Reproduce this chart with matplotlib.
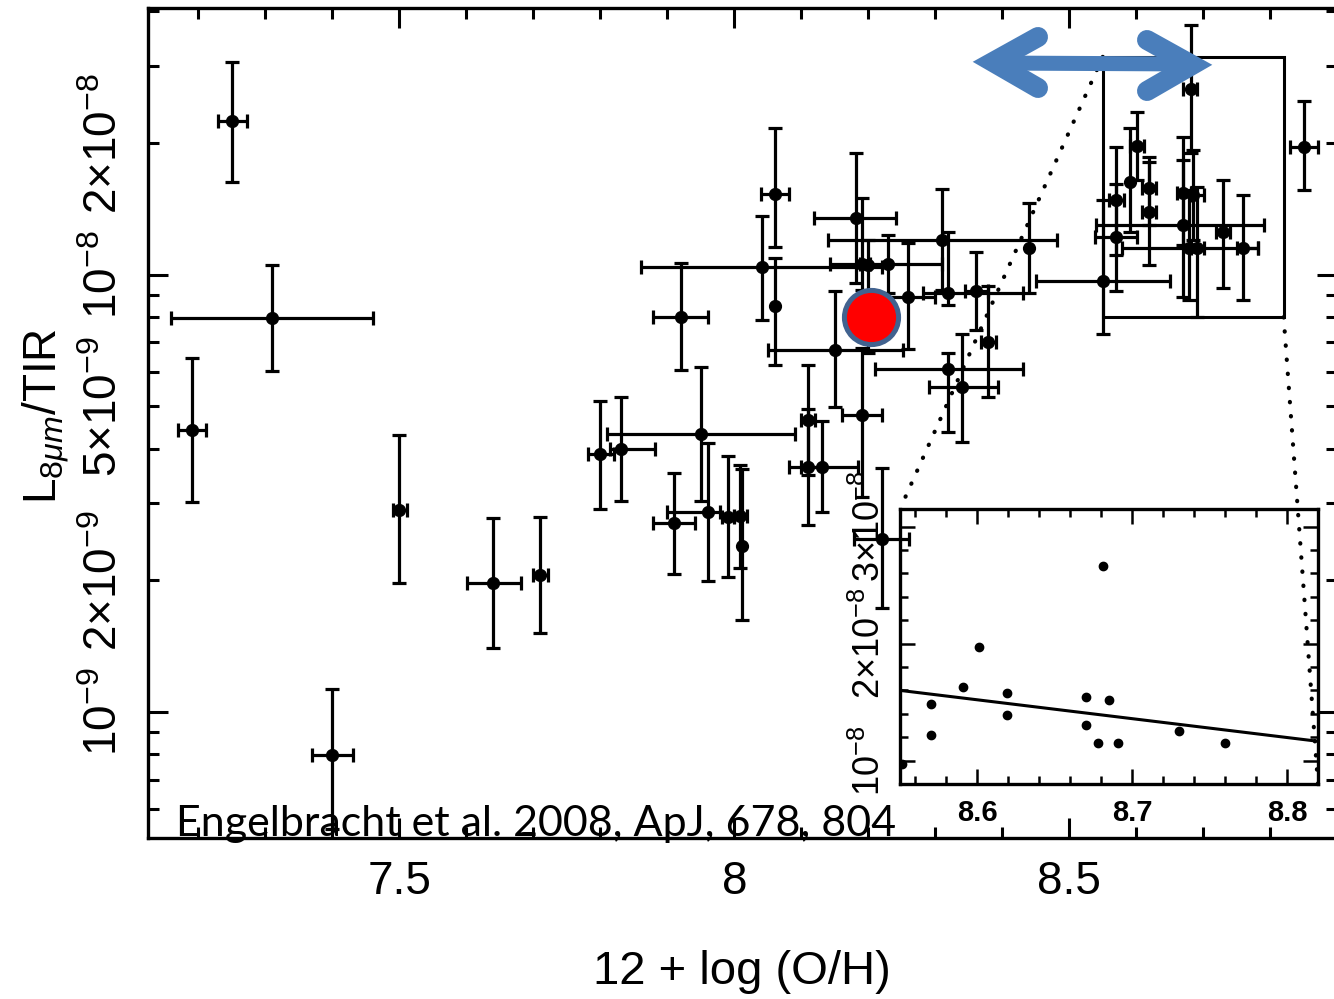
import matplotlib
matplotlib.use("Agg")

import matplotlib.pyplot as plt
import matplotlib.font_manager as fm
from matplotlib.lines import Line2D
from matplotlib.patches import Rectangle, ConnectionPatch
from matplotlib.ticker import FixedLocator, FixedFormatter, MultipleLocator, FuncFormatter
import numpy as np

plt.rcParams["font.family"] = ["Liberation Sans", "DejaVu Sans"]
plt.rcParams["mathtext.fontset"] = "custom"
plt.rcParams["mathtext.rm"] = "Liberation Sans"
plt.rcParams["mathtext.it"] = "Liberation Sans:italic"
plt.rcParams["mathtext.bf"] = "Liberation Sans:bold"

W, H = 1334, 999

# --- data: 12 + log(O/H) with lower/upper bounds (nan = no x error) ---
oh = np.array([7.251, 7.310, 7.191, 7.500, 7.400, 7.640, 7.710, 7.800, 7.831, 7.951,
               7.921, 7.910, 7.961, 7.991, 8.009, 8.012, 8.110, 8.110, 8.131, 8.191,
               8.221, 8.061, 8.061, 8.042, 8.181, 8.191, 8.200, 8.230, 8.151, 8.260,
               8.310, 8.319, 8.319, 8.361, 8.379, 8.340, 8.440, 8.551, 8.681, 8.670,
               8.685, 8.670, 8.678, 8.691, 8.730, 8.760, 8.601, 8.591, 8.619, 8.619,
               8.570, 8.570, 8.851])
oh_lo = np.array([7.230, 7.160, 7.170, 7.490, 7.370, 7.601, 7.700, 7.781, 7.815, 7.810,
                  7.879, 7.879, 7.900, 7.982, 8.000, np.nan, 8.100, 8.081, 8.099, 8.161,
                  8.178, 8.040, np.nan, 7.861, 8.119, 8.143, np.nan, 8.188, 8.051, 8.218,
                  8.140, 8.282, 8.210, 8.345, 8.369, 8.290, np.nan, 8.451, 8.670, 8.661,
                  8.681, 8.540, 8.579, 8.681, 8.719, 8.751, 8.591, np.nan, 8.609, 8.609,
                  8.560, 8.539, 8.830])
oh_hi = np.array([7.273, 7.461, 7.212, 7.512, 7.431, 7.682, 7.722, 7.821, 7.882, 8.091,
                  7.961, 7.942, 7.979, 8.000, 8.019, np.nan, 8.121, 8.131, 8.184, 8.221,
                  8.261, 8.081, np.nan, 8.221, 8.242, 8.203, np.nan, 8.310, 8.252, 8.300,
                  8.481, 8.431, 8.431, 8.378, 8.390, 8.393, np.nan, 8.651, 8.691, 8.681,
                  8.701, 8.790, 8.781, 8.701, 8.740, 8.781, 8.612, np.nan, 8.630, 8.630,
                  8.581, 8.601, 8.872])

# --- L_8um / TIR in units of 1e-9 ---
ratio = np.array([22.5, 7.97, 4.42, 2.90, 0.796, 1.97, 2.06, 3.90, 4.00, 4.33,
                  8.02, 2.70, 2.86, 2.80, 2.81, 2.40, 4.66, 3.64, 3.64, 4.79,
                  2.49, 15.3, 8.49, 10.4, 13.5, 10.6, 10.5, 10.6, 6.74, 8.91,
                  12.0, 9.10, 6.10, 9.19, 7.03, 5.55, 11.5, 9.69, 26.6, 15.4,
                  15.2, 13.0, 11.5, 11.5, 12.5, 11.5, 19.7, 16.3, 15.8, 13.9,
                  14.8, 12.2, 19.6])
ratio_lo = np.array([16.3, 6.03, 3.03, 1.97, 0.539, 1.40, 1.52, 2.92, 3.04, 3.04,
                     6.07, 2.07, 1.99, 2.04, 2.13, 1.62, 3.49, 2.68, 2.86, 3.11,
                     1.73, 11.6, 6.23, 7.89, 9.59, 9.24, 6.63, 9.10, 4.99, 6.77,
                     9.24, 8.54, 4.38, 7.49, 5.26, 4.15, 9.10, 7.33, 19.0, 11.7,
                     12.0, 8.91, 8.77, 8.02, 9.34, 8.77, 16.5, 12.5, 13.0, 10.5,
                     11.1, 9.19, 15.6])
ratio_hi = np.array([30.7, 10.5, 6.46, 4.31, 1.13, 2.78, 2.80, 5.15, 5.26, 6.16,
                     10.65, 3.53, 4.13, 3.86, 3.68, 3.60, 6.23, 4.94, 4.64, 6.81,
                     3.62, 21.6, 10.9, 13.6, 19.0, 15.0, 12.0, 12.3, 9.19, 11.8,
                     15.7, 12.5, 6.63, 11.3, 9.44, 7.33, 14.6, 14.8, 37.3, 20.7,
                     19.3, 18.3, 15.6, 15.9, 16.5, 15.2, 23.5, 21.7, 18.6, 18.1,
                     19.6, 16.1, 25.0])
ratio, ratio_lo, ratio_hi = ratio * 1e-9, ratio_lo * 1e-9, ratio_hi * 1e-9

# highlighted object (red dot)
hl_x, hl_y = 8.204, 8.0e-9

# zoomed region / inset limits and the fitted line shown in the inset
zoom_x = (8.55, 8.82)
zoom_y = (0.80e-8, 3.15e-8)
fit_x = [8.55, 8.82]
fit_y = [1.60e-8, 1.165e-8]

x_ticks = [7.5, 8.0, 8.5]
x_ticklabels = ["7.5", "8", "8.5"]
y_labels = {1e-9: r"$10^{-9}$", 2e-9: r"$2{\times}10^{-9}$", 5e-9: r"$5{\times}10^{-9}$",
            1e-8: r"$10^{-8}$", 2e-8: r"$2{\times}10^{-8}$"}
inset_xticks = [8.6, 8.7, 8.8]
inset_xticklabels = ["8.6", "8.7", "8.8"]
inset_yticks = [1e-8, 2e-8, 3e-8]
inset_yticklabels = [r"$10^{-8}$", r"$2{\times}10^{-8}$", r"$3{\times}10^{-8}$"]

citation = "Engelbracht et al. 2008, ApJ, 678, 804"


def pick_font(names):
    for n in names:
        try:
            fm.findfont(fm.FontProperties(family=n), fallback_to_default=False)
            return n
        except ValueError:
            pass
    return "DejaVu Sans"


def fpx(x, y):
    """pixel position -> figure fraction"""
    return x / W, 1 - y / H


fig = plt.figure(figsize=(W / 100, H / 100), dpi=100, facecolor="white")
ax = fig.add_axes([148 / W, 1 - 838 / H, 1189.25 / W, 830 / H])
ax.set_xlim(7.125, 8.9)
ax.set_yscale("log")
ax.set_ylim(10 ** -9.288, 10 ** -7.390)

eb = dict(fmt="o", color="black", ms=8.5, elinewidth=2.3, capsize=4.7, capthick=2.3, zorder=3)
m = ~np.isnan(oh_lo)
ax.errorbar(oh[m], ratio[m],
            xerr=[oh[m] - oh_lo[m], oh_hi[m] - oh[m]],
            yerr=[ratio[m] - ratio_lo[m], ratio_hi[m] - ratio[m]], **eb)
ax.errorbar(oh[~m], ratio[~m],
            yerr=[ratio[~m] - ratio_lo[~m], ratio_hi[~m] - ratio[~m]], **eb)

ax.plot([hl_x], [hl_y], "o", ms=39, mfc="#FF0000", mec="#41628F", mew=3.6, zorder=6)

ax.add_patch(Rectangle((zoom_x[0], zoom_y[0]), zoom_x[1] - zoom_x[0], zoom_y[1] - zoom_y[0],
                       fill=False, ec="black", lw=2.2, zorder=4))

# ticks
ax.xaxis.set_major_locator(FixedLocator(x_ticks))
ax.xaxis.set_major_formatter(FixedFormatter(x_ticklabels))
ax.xaxis.set_minor_locator(MultipleLocator(0.1))
ax.yaxis.set_major_locator(FixedLocator([1e-9, 1e-8]))
ax.yaxis.set_minor_locator(FixedLocator([k * 10.0 ** e for e in (-10, -9, -8) for k in range(2, 10)]))


def ylab(v, pos):
    for key, s in y_labels.items():
        if np.isclose(v, key, rtol=1e-6, atol=0):
            return s
    return ""


ax.yaxis.set_major_formatter(FuncFormatter(ylab))
ax.yaxis.set_minor_formatter(FuncFormatter(ylab))
ax.tick_params(which="both", direction="in", top=True, right=True, width=2.2, labelsize=33)
ax.tick_params(which="major", length=14.4)
ax.tick_params(which="minor", length=8)
ax.tick_params(axis="x", which="both", pad=16)
ax.tick_params(axis="y", which="both", pad=15, labelrotation=90)
for lbl in ax.yaxis.get_ticklabels(which="both"):
    lbl.set_va("center")
for s in ax.spines.values():
    s.set_linewidth(2.4)

ax.set_xlabel("12 + log (O/H)", fontsize=34, va="center")
ax.xaxis.set_label_coords(*fpx(742, 972), transform=fig.transFigure)
ax.set_ylabel(r"L$_{8\mu m}$/TIR", fontsize=33, va="center", ha="center")
ax.yaxis.set_label_coords(*fpx(46, 416), transform=fig.transFigure)

cite_font = pick_font(["Lato", "Open Sans"])
fig.text(*fpx(176, 836), citation, family=cite_font, fontsize=31, ha="left", va="baseline",
         zorder=10)

# inset
axins = fig.add_axes([900 / W, 1 - 784 / H, 418 / W, 275 / H])
axins.set_facecolor("none")
sel = (oh >= zoom_x[0]) & (oh <= zoom_x[1]) & (ratio >= zoom_y[0]) & (ratio <= zoom_y[1])
axins.plot(oh[sel], ratio[sel], "o", color="black", ms=6)
axins.plot(fit_x, fit_y, "-", color="black", lw=2.2)
axins.set_xlim(zoom_x)
axins.set_ylim(zoom_y)
axins.xaxis.set_major_locator(FixedLocator(inset_xticks))
axins.xaxis.set_major_formatter(FixedFormatter(inset_xticklabels))
axins.xaxis.set_minor_locator(MultipleLocator(0.02))
axins.yaxis.set_major_locator(FixedLocator(inset_yticks))
axins.yaxis.set_major_formatter(FixedFormatter(inset_yticklabels))
axins.yaxis.set_minor_locator(MultipleLocator(0.2e-8))
axins.tick_params(which="both", direction="in", top=True, right=True, width=1.8, pad=11)
axins.tick_params(which="major", length=11)
axins.tick_params(which="minor", length=6)
axins.tick_params(axis="x", labelsize=21)
axins.tick_params(axis="y", labelsize=26, labelrotation=90, pad=9)
for lbl in axins.get_xticklabels():
    lbl.set_fontweight("bold")
for lbl in axins.get_yticklabels():
    lbl.set_va("center")
for s in axins.spines.values():
    s.set_linewidth(2.4)

# dotted connectors box -> inset
for xyA, xyB in [((zoom_x[0], zoom_y[1]), (0, 1)), ((zoom_x[1], zoom_y[0]), (1, 0))]:
    con = ConnectionPatch(xyA=xyA, coordsA=ax.transData, xyB=xyB, coordsB=axins.transAxes,
                          color="black", lw=3.0, linestyle=(0, (0.1, 3.3)), capstyle="round",
                          zorder=8)
    fig.add_artist(con)

# blue double arrow
blue = "#4A7EBB"
sx, sy = zip(fpx(990, 63), fpx(1194, 64))
fig.add_artist(Line2D(sx, sy, transform=fig.transFigure, color=blue, lw=10.8,
                      solid_capstyle="butt", zorder=20))
for pts in ([(1038, 37), (993, 62), (1038, 88)], [(1147, 40), (1192, 65), (1147, 91)]):
    xs, ys = zip(*[fpx(*p) for p in pts])
    fig.add_artist(Line2D(xs, ys, transform=fig.transFigure, color=blue, lw=14.4,
                          solid_capstyle="round", solid_joinstyle="miter", zorder=20))

fig.savefig("out.png", dpi=100)
